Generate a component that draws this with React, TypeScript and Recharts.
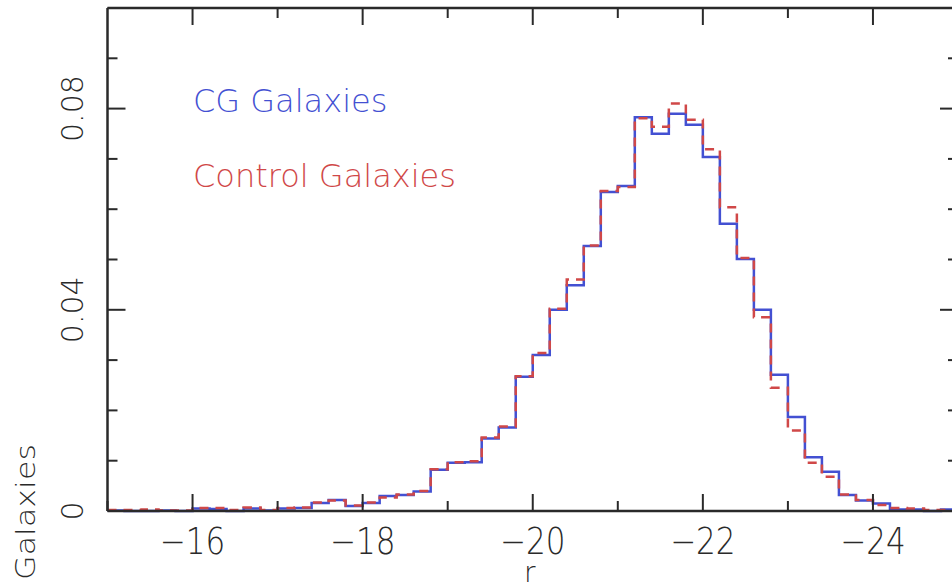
import { Label, Legend, Line, LineChart, XAxis, YAxis } from "recharts"

// r-band magnitude bin edges, 0.2 mag wide
const binEdges = [
  -15, -15.2, -15.4, -15.6, -15.8, -16, -16.2, -16.4, -16.6, -16.8,
  -17, -17.2, -17.4, -17.6, -17.8, -18, -18.2, -18.4, -18.6, -18.8,
  -19, -19.2, -19.4, -19.6, -19.8, -20, -20.2, -20.4, -20.6, -20.8,
  -21, -21.2, -21.4, -21.6, -21.8, -22, -22.2, -22.4, -22.6, -22.8,
  -23, -23.2, -23.4, -23.6, -23.8, -24, -24.2, -24.4, -24.6, -24.8,
  -25,
]

// fraction of galaxies per bin
const cgFraction = [
  0.0001, 0.0, 0.0, 0.0001, 0.0, 0.0005, 0.0004, 0.0, 0.0005, 0.0001,
  0.0005, 0.0006, 0.0016, 0.0022, 0.001, 0.0016, 0.003, 0.0032, 0.0039, 0.0082,
  0.0096, 0.0097, 0.0144, 0.0166, 0.0267, 0.031, 0.04, 0.0449, 0.0527, 0.0634,
  0.0646, 0.0783, 0.075, 0.079, 0.0768, 0.0704, 0.0571, 0.0501, 0.04, 0.0271,
  0.0187, 0.0107, 0.0078, 0.0032, 0.0021, 0.0015, 0.0003, 0.0003, 0.0, 0.0003,
]

const controlFraction = [
  0.0002, 0.0002, 0.0003, 0.0001, 0.0001, 0.0006, 0.0006, 0.0002, 0.0007, 0.0002,
  0.0006, 0.0007, 0.0017, 0.0021, 0.0011, 0.0017, 0.0027, 0.0033, 0.004, 0.0083,
  0.0097, 0.0099, 0.0146, 0.0168, 0.0268, 0.0314, 0.0402, 0.046, 0.0528, 0.0636,
  0.0644, 0.0781, 0.0764, 0.081, 0.0778, 0.0719, 0.0604, 0.0503, 0.0385, 0.0245,
  0.016, 0.0096, 0.0068, 0.0033, 0.0022, 0.0012, 0.0006, 0.0005, 0.0002, 0.0002,
]

const xTicks = [-15, -16, -17, -18, -19, -20, -21, -22, -23, -24, -25]
const xLabels = [-16, -18, -20, -22, -24]
const yTicks = [0, 0.01, 0.02, 0.03, 0.04, 0.05, 0.06, 0.07, 0.08, 0.09, 0.1]
const yLabels = ["0", "0.04", "0.08"]

const BLUE = "#4350d2"
const RED = "#d04848"
const INK = "#2a2a2a"
const FONT = "'DejaVu Sans', sans-serif"

// frame geometry
const CHART_W = 1000
const PLOT_TOP = 8
const PLOT_LEFT = 107.5
const RIGHT_MARGIN = 41
const PLOT_RIGHT = CHART_W - RIGHT_MARGIN - 1
const X_BRIGHT = -15
const X_FAINT = -25

// stepAfter needs a closing point at the last edge
const rows = binEdges.map((m, i) => {
  const k = Math.min(i, cgFraction.length - 1)
  return { m, cg: cgFraction[k], control: controlFraction[k] }
})

const isMajorX = (v: number) => Math.round(v) % 2 === 0
const isMajorY = (v: number) => Math.round(v * 100) % 4 === 0
const tickX = (t: number) =>
  PLOT_LEFT + ((t - X_BRIGHT) / (X_FAINT - X_BRIGHT)) * (PLOT_RIGHT - PLOT_LEFT)

const BottomTick = (props: any) => {
  const { x, y, payload } = props
  const v = payload.value
  const len = isMajorX(v) ? 17 : 10
  return (
    <g>
      <line x1={x} x2={x} y1={y} y2={y - len} stroke={INK} strokeWidth={2} />
      {xLabels.includes(v) && (
        <text
          transform={`translate(${x},554) scale(1,1.18)`}
          textAnchor="middle"
          fontFamily={FONT}
          fontWeight={200}
          fontSize={31}
          fill={INK}
        >
          {`\u2212${Math.abs(v)}`}
        </text>
      )}
    </g>
  )
}

const LeftTick = (props: any) => {
  const { x, y, payload } = props
  const v = payload.value
  const major = isMajorY(v)
  const label = yLabels.find((s) => Math.abs(Number(s) - v) < 1e-9)
  return (
    <g>
      <line x1={x} x2={x + (major ? 18 : 10)} y1={y} y2={y} stroke={INK} strokeWidth={2} />
      {label && (
        <text
          transform={`translate(83,${y}) rotate(-90)`}
          textAnchor="middle"
          fontFamily={FONT}
          fontWeight={200}
          fontSize={30}
          fill={INK}
        >
          {label}
        </text>
      )}
    </g>
  )
}

const RightTick = (props: any) => {
  const { x, y, payload } = props
  const major = isMajorY(payload.value)
  return <line x1={x} x2={x - (major ? 18 : 10)} y1={y} y2={y} stroke={INK} strokeWidth={2} />
}

// series names plus the inward ticks along the top edge of the frame
const Overlay = () => (
  <svg width={CHART_W} height={220} style={{ display: "block" }}>
    {xTicks.slice(1, -1).map((t) => (
      <line
        key={t}
        x1={tickX(t)}
        x2={tickX(t)}
        y1={PLOT_TOP}
        y2={PLOT_TOP + (isMajorX(t) ? 17 : 10)}
        stroke={INK}
        strokeWidth={2}
      />
    ))}
    <text x={193} y={112} fontFamily={FONT} fontWeight={200} fontSize={32} fill={BLUE}>
      CG Galaxies
    </text>
    <text x={193} y={187} fontFamily={FONT} fontWeight={200} fontSize={32} fill={RED}>
      Control Galaxies
    </text>
  </svg>
)

export default function App() {
  return (
    <div
      style={{
        position: "fixed",
        left: 0,
        top: 0,
        width: 952,
        height: 583,
        overflow: "hidden",
        background: "#fff",
      }}
    >
      <LineChart
        width={CHART_W}
        height={583}
        data={rows}
        margin={{ top: PLOT_TOP - 1, right: RIGHT_MARGIN, left: 0, bottom: 0 }}
      >
        <XAxis
          xAxisId="bottom"
          dataKey="m"
          type="number"
          domain={[X_FAINT, X_BRIGHT]}
          reversed
          ticks={xTicks}
          interval={0}
          height={72}
          tickSize={0}
          tickMargin={0}
          tickLine={false}
          axisLine={{ stroke: INK, strokeWidth: 2.5 }}
          tick={<BottomTick />}
        >
          <Label
            content={(p: any) => (
              <text
                x={p.viewBox.x + p.viewBox.width / 2 - 3}
                y={582}
                textAnchor="middle"
                fontFamily={FONT}
                fontWeight={200}
                fontSize={28}
                fill={INK}
              >
                r
              </text>
            )}
          />
        </XAxis>
        <XAxis
          xAxisId="top"
          orientation="top"
          dataKey="m"
          type="number"
          domain={[X_FAINT, X_BRIGHT]}
          reversed
          height={1}
          tick={false}
          tickLine={false}
          axisLine={{ stroke: INK, strokeWidth: 2.5 }}
        />
        <YAxis
          yAxisId="left"
          type="number"
          domain={[0, 0.1]}
          ticks={yTicks}
          interval={0}
          width={PLOT_LEFT}
          tickSize={0}
          tickMargin={0}
          tickLine={false}
          axisLine={{ stroke: INK, strokeWidth: 2.5 }}
          tick={<LeftTick />}
        >
          <Label
            content={() => (
              <text
                transform="translate(35,512) rotate(-90) scale(1.22,1)"
                textAnchor="middle"
                fontFamily={FONT}
                fontWeight={200}
                fontSize={26}
                fill={INK}
              >
                Galaxies
              </text>
            )}
          />
        </YAxis>
        <YAxis
          yAxisId="right"
          orientation="right"
          type="number"
          domain={[0, 0.1]}
          ticks={yTicks}
          interval={0}
          width={1}
          tickSize={0}
          tickMargin={0}
          tickLine={false}
          axisLine={{ stroke: INK, strokeWidth: 2.5 }}
          tick={<RightTick />}
        />
        <Line
          xAxisId="bottom"
          yAxisId="left"
          type="stepAfter"
          dataKey="cg"
          stroke={BLUE}
          strokeWidth={2.5}
          dot={false}
          isAnimationActive={false}
        />
        {/* same scales as bottom/left, bound here so the frame axes get their ticks */}
        <Line
          xAxisId="top"
          yAxisId="right"
          type="stepAfter"
          dataKey="control"
          stroke={RED}
          strokeWidth={2.5}
          strokeDasharray="9 7"
          dot={false}
          isAnimationActive={false}
        />
        <Legend
          layout="vertical"
          align="center"
          verticalAlign="middle"
          wrapperStyle={{ left: 0, top: 0 }}
          content={() => <Overlay />}
        />
      </LineChart>
    </div>
  )
}
